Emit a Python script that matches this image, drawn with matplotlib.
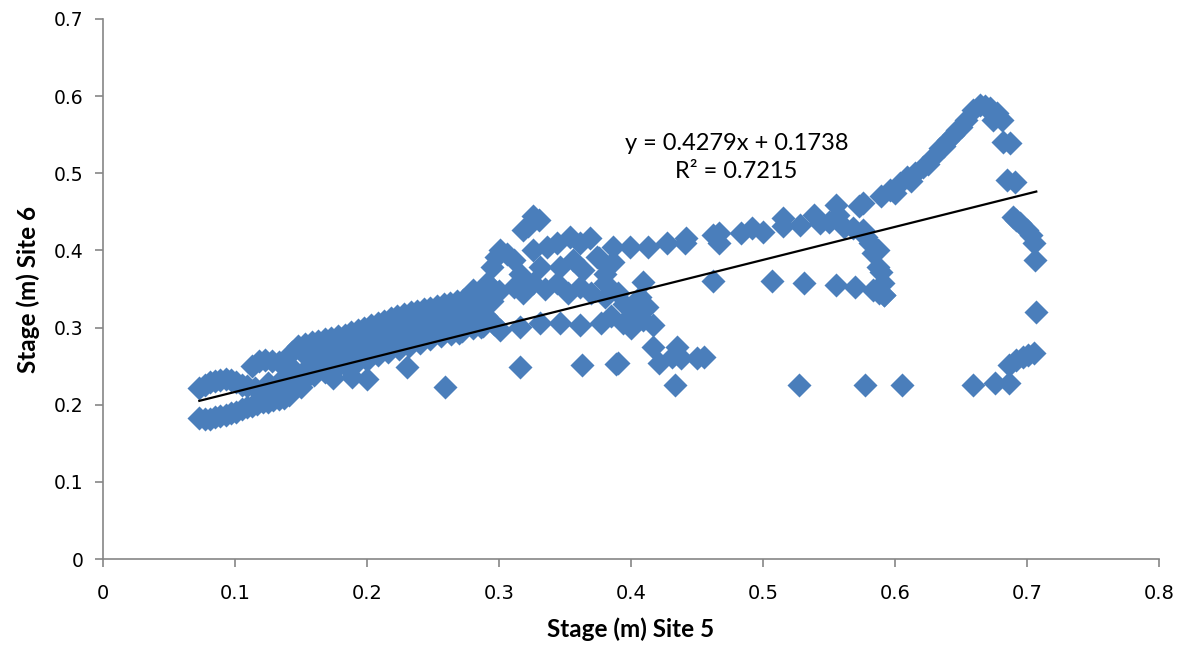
import matplotlib.pyplot as plt
import numpy as np

plt.rcParams['font.family'] = ['Lato', 'DejaVu Sans']

# --- datos (Stage Site 5 vs Stage Site 6) ---
# tramo inferior inicial
a_x = [0.073, 0.077, 0.081, 0.085, 0.089, 0.093, 0.097, 0.101, 0.105, 0.109,
       0.113, 0.117, 0.121, 0.125, 0.129, 0.133, 0.137, 0.141]
a_y = [0.183, 0.181, 0.182, 0.184, 0.186, 0.187, 0.189, 0.191, 0.194, 0.197,
       0.199, 0.201, 0.203, 0.204, 0.206, 0.207, 0.209, 0.212]

# tramo superior inicial
b_x = [0.073, 0.077, 0.081, 0.085, 0.089, 0.093, 0.097, 0.101, 0.105, 0.109]
b_y = [0.222, 0.226, 0.229, 0.231, 0.232, 0.233, 0.232, 0.229, 0.226, 0.224]

# banda principal: borde superior
top_x = [0.113, 0.118, 0.123, 0.128, 0.133, 0.138, 0.143, 0.148, 0.153, 0.158,
         0.163, 0.168, 0.173, 0.178, 0.183, 0.188, 0.193, 0.198, 0.203, 0.208,
         0.213, 0.218, 0.223, 0.228, 0.233, 0.238, 0.243, 0.248, 0.253, 0.258,
         0.263, 0.268, 0.273, 0.278, 0.283, 0.288, 0.293]
top_y = [0.250, 0.257, 0.258, 0.257, 0.256, 0.250, 0.268, 0.276, 0.279, 0.281,
         0.283, 0.285, 0.287, 0.289, 0.291, 0.294, 0.297, 0.300, 0.303, 0.306,
         0.309, 0.312, 0.315, 0.318, 0.320, 0.322, 0.324, 0.326, 0.328, 0.330,
         0.332, 0.334, 0.336, 0.338, 0.341, 0.346, 0.354]

# banda principal: centro alto
mid_x = [0.115, 0.125, 0.135, 0.145, 0.155, 0.165, 0.175, 0.185, 0.195, 0.205,
         0.215, 0.225, 0.235, 0.245, 0.255, 0.265, 0.275, 0.285, 0.295]
mid_y = [0.222, 0.228, 0.232, 0.245, 0.260, 0.264, 0.268, 0.272, 0.277, 0.283,
         0.289, 0.295, 0.300, 0.305, 0.309, 0.313, 0.318, 0.324, 0.334]

# banda principal: centro bajo
mid2_x = [0.120, 0.130, 0.140, 0.150, 0.160, 0.170, 0.180, 0.190, 0.200, 0.210,
          0.220, 0.230, 0.240, 0.250, 0.260, 0.270, 0.280, 0.290]
mid2_y = [0.215, 0.220, 0.228, 0.240, 0.250, 0.254, 0.259, 0.263, 0.268, 0.274,
          0.280, 0.285, 0.290, 0.295, 0.299, 0.304, 0.309, 0.315]

# banda principal: borde inferior
low_x = [0.145, 0.152, 0.160, 0.168, 0.176, 0.184, 0.192, 0.200, 0.208, 0.216,
         0.224, 0.232, 0.240, 0.248, 0.256, 0.264, 0.272, 0.280, 0.288, 0.296]
low_y = [0.222, 0.232, 0.238, 0.242, 0.246, 0.250, 0.254, 0.258, 0.264, 0.268,
         0.272, 0.276, 0.280, 0.285, 0.289, 0.292, 0.296, 0.300, 0.302, 0.305]

# puntos sueltos bajo la banda
out_x = [0.150, 0.174, 0.189, 0.200, 0.230, 0.259]
out_y = [0.223, 0.235, 0.236, 0.234, 0.249, 0.223]

# nube central (0.28 - 0.46)
c_x = [0.295, 0.298, 0.301, 0.306, 0.311, 0.318, 0.322, 0.326, 0.330, 0.326,
       0.336, 0.344, 0.354, 0.361, 0.369, 0.376, 0.386, 0.399, 0.413, 0.427,
       0.441, 0.442,
       0.316, 0.331, 0.346, 0.356, 0.364, 0.374, 0.380, 0.386,
       0.280, 0.291, 0.300, 0.311, 0.318, 0.326, 0.335, 0.344, 0.352, 0.361,
       0.370, 0.380, 0.380, 0.390, 0.395, 0.400, 0.407, 0.409, 0.412, 0.409,
       0.417,
       0.270, 0.286, 0.301, 0.316, 0.331, 0.346, 0.361, 0.377, 0.385, 0.394,
       0.400]
c_y = [0.379, 0.392, 0.400, 0.395, 0.388, 0.426, 0.432, 0.444, 0.440, 0.400,
       0.405, 0.410, 0.418, 0.410, 0.416, 0.390, 0.405, 0.405, 0.405, 0.410,
       0.410, 0.416,
       0.370, 0.379, 0.379, 0.388, 0.375, 0.392, 0.370, 0.385,
       0.349, 0.358, 0.348, 0.353, 0.345, 0.358, 0.350, 0.358, 0.345, 0.353,
       0.345, 0.358, 0.340, 0.345, 0.330, 0.323, 0.340, 0.359, 0.327, 0.310,
       0.303,
       0.293, 0.301, 0.297, 0.301, 0.306, 0.306, 0.303, 0.306, 0.315, 0.306,
       0.300]

# puntos bajos alrededor de 0.3 - 0.46
d_x = [0.316, 0.363, 0.389, 0.390, 0.417, 0.421, 0.435, 0.431, 0.438, 0.450,
       0.455, 0.433]
d_y = [0.249, 0.251, 0.253, 0.254, 0.275, 0.254, 0.275, 0.262, 0.260, 0.260,
       0.262, 0.226]

# fila ~0.36 entre 0.46 y 0.59
e_x = [0.462, 0.507, 0.531, 0.555, 0.570, 0.583, 0.588, 0.592]
e_y = [0.360, 0.360, 0.358, 0.355, 0.353, 0.349, 0.345, 0.342]

# fila superior 0.46 - 0.58
f_x = [0.462, 0.467, 0.467, 0.483, 0.492, 0.500, 0.515, 0.515, 0.528, 0.539,
       0.543, 0.550, 0.555, 0.557, 0.561, 0.568, 0.573, 0.576]
f_y = [0.420, 0.410, 0.422, 0.422, 0.429, 0.424, 0.442, 0.432, 0.433, 0.446,
       0.435, 0.437, 0.459, 0.446, 0.430, 0.429, 0.457, 0.462]

# descenso vertical cerca de 0.58
g_x = [0.576, 0.578, 0.581, 0.583, 0.587, 0.587, 0.589, 0.591, 0.592]
g_y = [0.426, 0.418, 0.410, 0.397, 0.400, 0.379, 0.372, 0.358, 0.342]

# rama ascendente hasta el maximo
h_x = [0.589, 0.596, 0.600, 0.604, 0.609, 0.612, 0.615, 0.621, 0.625, 0.629,
       0.634, 0.637, 0.640, 0.644, 0.647, 0.650, 0.654, 0.659, 0.664, 0.668,
       0.672, 0.674, 0.677, 0.681]
h_y = [0.470, 0.478, 0.475, 0.487, 0.495, 0.490, 0.500, 0.508, 0.512, 0.521,
       0.533, 0.535, 0.543, 0.550, 0.556, 0.560, 0.569, 0.582, 0.589, 0.587,
       0.585, 0.569, 0.578, 0.569]

# rama descendente derecha
k_x = [0.682, 0.687, 0.685, 0.691, 0.689, 0.692, 0.695, 0.700, 0.703, 0.705,
       0.706, 0.707]
k_y = [0.541, 0.539, 0.491, 0.489, 0.443, 0.440, 0.435, 0.427, 0.420, 0.410,
       0.388, 0.320]

# puntos bajos a la derecha
m_x = [0.705, 0.701, 0.697, 0.692, 0.686, 0.686, 0.676, 0.659, 0.605, 0.577,
       0.527]
m_y = [0.267, 0.265, 0.262, 0.258, 0.252, 0.228, 0.228, 0.226, 0.226, 0.226,
       0.226]

# linea de tendencia (Excel)
pendiente = 0.4279
ordenada = 0.1738
r2 = 0.7215
x_tend = [0.073, 0.707]

x_ticks = [0, 0.1, 0.2, 0.3, 0.4, 0.5, 0.6, 0.7, 0.8]
x_labels = ['0', '0.1', '0.2', '0.3', '0.4', '0.5', '0.6', '0.7', '0.8']
y_ticks = [0, 0.1, 0.2, 0.3, 0.4, 0.5, 0.6, 0.7]
y_labels = ['0', '0.1', '0.2', '0.3', '0.4', '0.5', '0.6', '0.7']

xs = np.concatenate([a_x, b_x, top_x, mid_x, mid2_x, low_x, out_x, c_x, d_x,
                     e_x, f_x, g_x, h_x, k_x, m_x])
ys = np.concatenate([a_y, b_y, top_y, mid_y, mid2_y, low_y, out_y, c_y, d_y,
                     e_y, f_y, g_y, h_y, k_y, m_y])

fig = plt.figure(figsize=(11.81, 6.48), dpi=100)
ax = fig.add_axes([0.0872, 0.1373, 0.8942, 0.8334])

ax.scatter(xs, ys, marker='D', s=150, color='#4A7EBB', linewidths=0, zorder=2)

xt = np.array(x_tend)
ax.plot(xt, pendiente * xt + ordenada, color='black', lw=1.6, zorder=3)

ax.text(0.48, 0.539, f'y = {pendiente}x + {ordenada}', ha='center', va='center',
        fontsize=17)
ax.text(0.48, 0.502, f'R² = {r2}', ha='center', va='center', fontsize=17)

ax.set_xlim(0, 0.8)
ax.set_ylim(0, 0.7)
ax.set_xticks(x_ticks)
ax.set_xticklabels(x_labels, fontsize=14, family='DejaVu Sans')
ax.set_yticks(y_ticks)
ax.set_yticklabels(y_labels, fontsize=13.5, family='DejaVu Sans')
ax.tick_params(direction='out', length=6, width=1.2, color='#868686', pad=8)
ax.tick_params(axis='x', pad=12)

for lado in ['top', 'right']:
    ax.spines[lado].set_visible(False)
for lado in ['left', 'bottom']:
    ax.spines[lado].set_color('#868686')
    ax.spines[lado].set_linewidth(1.2)

ax.set_xlabel('Stage (m) Site 5', fontsize=17.5, fontweight='bold', labelpad=10)
ax.set_ylabel('Stage (m) Site 6', fontsize=17.5, fontweight='bold', labelpad=10)

fig.savefig('out.png', dpi=100)
